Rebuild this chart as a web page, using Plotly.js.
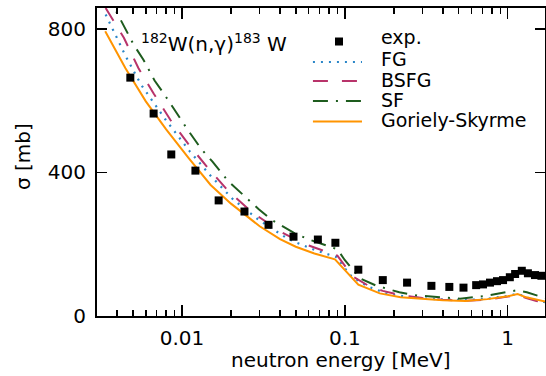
<!DOCTYPE html>
<html>
<head>
<meta charset="utf-8">
<script src="https://cdn.plot.ly/plotly-3.0.1.min.js"></script>
<style>html,body{margin:0;padding:0;background:#fff;}#plot{width:546px;height:376px;}</style>
</head>
<body>
<div id="plot"></div>
<script>
// Experimental data
const expE = [0.00482,0.0067,0.0086,0.0121,0.0168,0.0242,0.034,0.0484,0.0683,0.0875,0.121,0.171,0.241,0.34,0.438,0.535,0.64,0.705,0.778,0.859,0.936,1.03,1.11,1.22,1.33,1.47,1.61];
const expS = [664,564,450,405,322,291,254,221,213,204,129,100,93,84,81,79,86,88,93,97,100,108,117,126,119,114,112];

// FG
const fgE = [0.0034,0.0045,0.0056,0.0079,0.0112,0.0151,0.0207,0.0295,0.044,0.0502,0.0671,0.0892,0.098,0.11,0.139,0.185,0.23,0.3,0.4,0.55,0.75,1.0,1.15,1.3,1.5,1.72];
const fgS = [840,725,645,548,458,389,324,268,217,205,182,164,138,110,82,61,55,49,46,44,48,56,62,52,44,38];

// BSFG
const bsE = [0.0034,0.0044,0.0054,0.0067,0.0085,0.0109,0.0144,0.0191,0.0269,0.0373,0.041,0.0562,0.0842,0.09,0.112,0.14,0.171,0.22,0.3,0.4,0.55,0.75,1.0,1.15,1.3,1.5,1.72];
const bsS = [858,775,691,620,546,480,413,350,289,246,233,201,173,168,110,84,70,58,50,45,42,46,54,59,50,42,37];

// SF
const sfE = [0.0034,0.00446,0.00505,0.0058,0.00679,0.00773,0.00945,0.0108,0.0131,0.0154,0.0191,0.0228,0.0295,0.0355,0.0484,0.0602,0.0852,0.09,0.0998,0.124,0.155,0.216,0.279,0.402,0.51,0.73,0.92,1.15,1.31,1.6,1.72];
const sfS = [905,805,756,714,656,620,558,520,466,430,377,344,298,268,232,213,190,186,156,105,85,66,57,51,48,56,65,72,66,52,49];

// Goriely-Skyrme
const gsE = [0.00338,0.0045,0.006,0.008,0.011,0.015,0.02,0.03,0.04,0.05,0.065,0.087,0.121,0.164,0.22,0.3,0.4,0.55,0.75,1.0,1.15,1.3,1.5,1.72];
const gsS = [793,690,598,520,440,365,313,250,214,193,174,158,87,63,52,47,44,42,47,55,61,52,45,40];

const xTickVals = [0.01,0.1,1];
const xTickText = ['0.01','0.1','1'];
const xMinorVals = [0.003,0.004,0.005,0.006,0.007,0.008,0.009,0.02,0.03,0.04,0.05,0.06,0.07,0.08,0.09,0.2,0.3,0.4,0.5,0.6,0.7,0.8,0.9];
const yTickVals = [0,400,800];

const seriesNames = ['exp.','FG','BSFG','SF','Goriely-Skyrme'];
const colors = {fg:'#2a86c8', bs:'#b8336a', sf:'#1e5c1e', gs:'#ff9400'};

const F = 'DejaVu Sans, Arial, sans-serif';
const FS = 20;
const LFS = 19;

const traces = [
  {x: fgE, y: fgS, mode:'lines', name: seriesNames[1], line:{color:colors.fg, width:2.2, dash:'2px,6px'}},
  {x: bsE, y: bsS, mode:'lines', name: seriesNames[2], line:{color:colors.bs, width:2, dash:'15px,14px'}},
  {x: sfE, y: sfS, mode:'lines', name: seriesNames[3], line:{color:colors.sf, width:2, dash:'15px,8px,2px,8px'}},
  {x: gsE, y: gsS, mode:'lines', name: seriesNames[4], line:{color:colors.gs, width:2}},
  {x: expE, y: expS, mode:'markers', name: seriesNames[0], marker:{symbol:'square', size:8, color:'#000'}}
];

// manual legend geometry (paper coords)
const lx0 = 0.482, lx1 = 0.5915, ltx = 0.6317;
const rowY = [0.8929, 0.8247, 0.7630, 0.6981, 0.6315];
const textDy = [0.014, 0.009, 0.002, 0.004, 0.004];
const shapes = [
  {type:'rect', xref:'paper', yref:'paper', x0:0.5313, x1:0.5491, y0:0.8782, y1:0.9042, fillcolor:'#000', line:{width:0}},
  {type:'line', xref:'paper', yref:'paper', x0:lx0, x1:lx1, y0:rowY[1], y1:rowY[1], line:{color:colors.fg, width:2.2, dash:'2px,6px'}},
  {type:'line', xref:'paper', yref:'paper', x0:lx0, x1:lx1, y0:rowY[2], y1:rowY[2], line:{color:colors.bs, width:2, dash:'15px,14px'}},
  {type:'line', xref:'paper', yref:'paper', x0:lx0, x1:lx1, y0:rowY[3], y1:rowY[3], line:{color:colors.sf, width:2, dash:'15px,8px,2px,8px'}},
  {type:'line', xref:'paper', yref:'paper', x0:lx0, x1:lx1, y0:rowY[4], y1:rowY[4], line:{color:colors.gs, width:2}}
];
const annotations = seriesNames.map((n,i)=>({
  text:n, xref:'paper', yref:'paper', x:ltx, y:rowY[i]+textDy[i], xanchor:'left', yanchor:'middle', showarrow:false,
  borderpad:0, font:{family:F, size:LFS, color:'#000'}
}));
annotations.push({
  text:'<sup>182</sup>W(n,γ)<sup>183</sup> W', xref:'paper', yref:'paper', x:0.094, y:0.885, xanchor:'left', yanchor:'middle', showarrow:false,
  font:{family:F, size:FS, color:'#000'}
});
annotations.push({
  text:'neutron energy [MeV]', xref:'paper', yref:'paper', x:0.5446, y:-0.142, xanchor:'center', yanchor:'middle', showarrow:false,
  font:{family:F, size:FS, color:'#000'}
});
annotations.push({
  text:'σ [mb]', xref:'paper', yref:'paper', x:-0.165, y:0.5162, xanchor:'center', yanchor:'middle', textangle:-90, showarrow:false,
  font:{family:F, size:FS, color:'#000'}
});

const layout = {
  width:546, height:376,
  margin:{l:97, r:1, t:8, b:60},
  paper_bgcolor:'#fff', plot_bgcolor:'#fff',
  showlegend:false,
  font:{family:F, size:FS, color:'#000'},
  xaxis:{
    type:'log', range:[-2.5215, 0.2288],
    tickmode:'array', tickvals:xTickVals, ticktext:xTickText,
    ticks:'inside', ticklen:11, tickwidth:1.5, tickcolor:'#000',
    showline:true, linewidth:2, linecolor:'#000', mirror:'allticks',
    showgrid:false, zeroline:false,
    tickfont:{family:F, size:FS, color:'#000'},
    ticklabelstandoff:3,
    minor:{tickmode:'array', tickvals:xMinorVals, ticks:'inside', ticklen:6, tickwidth:1.5, tickcolor:'#000', showgrid:false}
  },
  yaxis:{
    range:[0, 858],
    tickmode:'array', tickvals:yTickVals,
    ticks:'inside', ticklen:10, tickwidth:1.5, tickcolor:'#000',
    showline:true, linewidth:2, linecolor:'#000', mirror:'allticks',
    showgrid:false, zeroline:false,
    tickfont:{family:F, size:FS, color:'#000'},
    ticklabelstandoff:5
  },
  shapes:shapes,
  annotations:annotations
};

Plotly.newPlot('plot', traces, layout, {displayModeBar:false, staticPlot:true});
</script>
</body>
</html>
